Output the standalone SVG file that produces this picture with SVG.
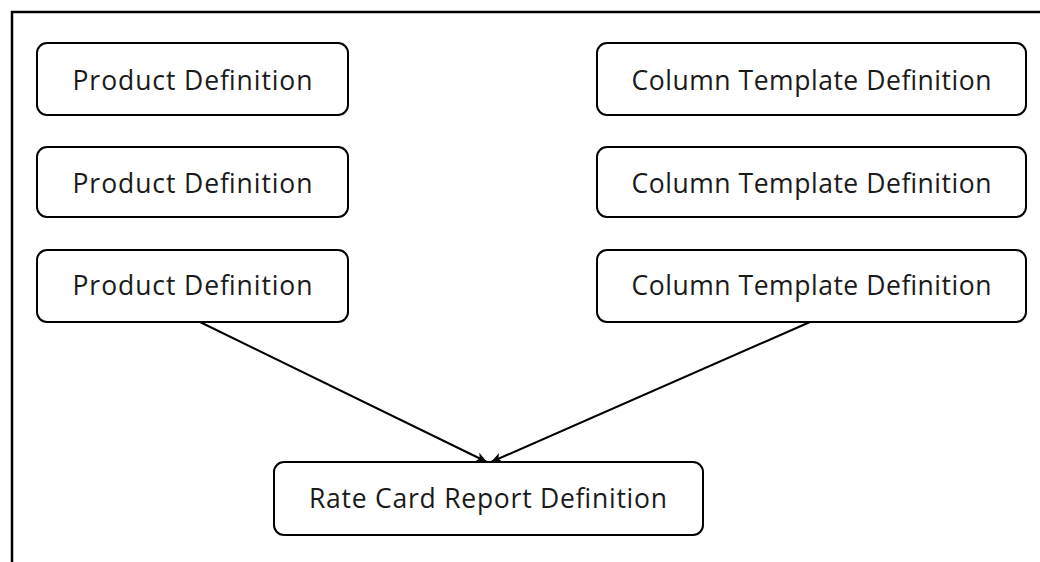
<svg xmlns="http://www.w3.org/2000/svg" width="1040" height="562" viewBox="0 0 1040 562">
<style>
.box{fill:#fff;stroke:#000;stroke-width:2}
.lbl{font-family:"Open Sans","Liberation Sans",sans-serif;font-size:26.5px;fill:#1a1a1a;text-anchor:middle}
.edge{stroke:#000;stroke-width:2;fill:none;marker-end:url(#ah)}
</style>
<defs>
<marker id="ah" markerWidth="12" markerHeight="10" refX="11" refY="5" orient="auto" markerUnits="userSpaceOnUse">
<path d="M0,0 L11,5 L0,10 L3,5 Z" fill="#000"/>
</marker>
</defs>
<rect width="1040" height="562" fill="#fff"/>
<g id="frame">
<path d="M1040,12 H12 V562" stroke="#000" stroke-width="2.5" fill="none"/>
</g>
<g id="pd1"><rect class="box" x="37" y="43" width="311" height="72" rx="10"/><text class="lbl" x="192.5" y="90" textLength="240">Product Definition</text></g>
<g id="pd2"><rect class="box" x="37" y="147" width="311" height="70" rx="10"/><text class="lbl" x="192.5" y="193" textLength="240">Product Definition</text></g>
<g id="pd3"><rect class="box" x="37" y="250" width="311" height="72" rx="10"/><text class="lbl" x="192.5" y="295" textLength="240">Product Definition</text></g>
<g id="ct1"><rect class="box" x="597" y="43" width="429" height="72" rx="10"/><text class="lbl" x="811.5" y="90" textLength="360">Column Template Definition</text></g>
<g id="ct2"><rect class="box" x="597" y="147" width="429" height="70" rx="10"/><text class="lbl" x="811.5" y="193" textLength="360">Column Template Definition</text></g>
<g id="ct3"><rect class="box" x="597" y="250" width="429" height="72" rx="10"/><text class="lbl" x="811.5" y="295" textLength="360">Column Template Definition</text></g>
<g id="rc"><rect class="box" x="274" y="462" width="429" height="73" rx="10"/><text class="lbl" x="488" y="508" textLength="358">Rate Card Report Definition</text></g>
<g id="connectors">
<line class="edge" x1="200" y1="322" x2="487" y2="462"/>
<line class="edge" x1="810" y1="322" x2="491" y2="462"/>
</g>
</svg>
